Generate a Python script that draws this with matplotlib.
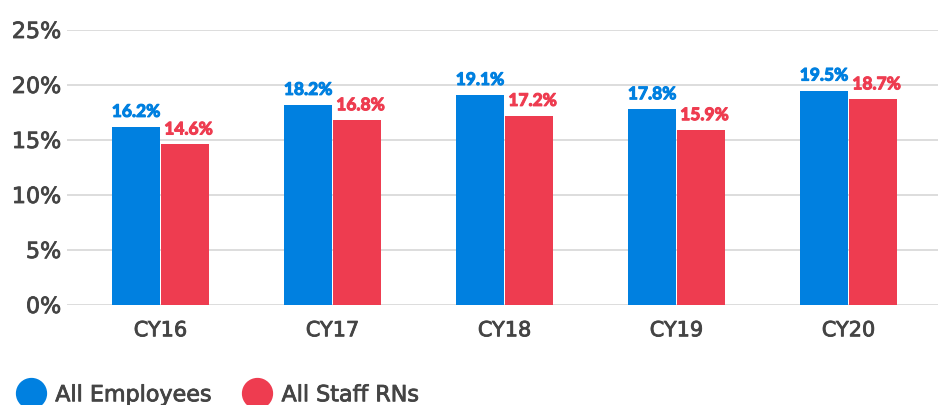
import matplotlib
matplotlib.use("Agg")
import matplotlib.pyplot as plt
import matplotlib.patheffects as pe
import numpy as np
from matplotlib.lines import Line2D

categories = ["CY16", "CY17", "CY18", "CY19", "CY20"]
all_employees = [16.2, 18.2, 19.1, 17.8, 19.5]
all_staff_rns = [14.6, 16.8, 17.2, 15.9, 18.7]
series_names = ["All Employees", "All Staff RNs"]
yticks = [0, 5, 10, 15, 20, 25]

BLUE = "#0080E0"
RED = "#EE3C50"
TEXT = "#444444"
GRID = "#DADADA"

plt.rcParams['font.family'] = ['DejaVu Sans']

fig = plt.figure(figsize=(9.38, 4.05), dpi=100)
ax = fig.add_axes([67/938, 100/405, 1 - 67/938, 275/405])

x = np.arange(len(categories))
w = 0.279
b1 = ax.bar(x - w/2 - 0.003, all_employees, w, color=BLUE, zorder=3)
b2 = ax.bar(x + w/2 + 0.003, all_staff_rns, w, color=RED, zorder=3)

for rects, vals, col, dx in ((b1, all_employees, BLUE, 0.0), (b2, all_staff_rns, RED, 0.02)):
    for rect, v in zip(rects, vals):
        ax.annotate(f"{v}%", (rect.get_x() + rect.get_width()/2 + dx, v), xytext=(0, 5),
                    textcoords="offset points", ha="center", va="bottom",
                    color=col, fontsize=12.5, fontweight="bold", family=["Lato"],
                    path_effects=[pe.withStroke(linewidth=0.8, foreground=col)])

ax.set_xlim(-0.544, 4.52)
ax.set_ylim(0, 25)
ax.set_yticks(yticks)
ax.set_yticklabels([f"{t}%" for t in yticks], fontsize=16, color=TEXT)
ax.set_xticks(x)
ax.set_xticklabels(categories, fontsize=15, color=TEXT)
ax.tick_params(axis="both", length=0)
ax.tick_params(axis="y", pad=4)
ax.tick_params(axis="x", pad=11)
ax.yaxis.grid(True, color=GRID, linewidth=1.3, zorder=0)
for s in ax.spines.values():
    s.set_visible(False)
for t in ax.get_xticklabels() + ax.get_yticklabels():
    t.set_path_effects([pe.withStroke(linewidth=0.6, foreground=TEXT)])

handles = [Line2D([], [], marker="o", linestyle="none", markersize=21.5, color=BLUE),
           Line2D([], [], marker="o", linestyle="none", markersize=21.5, color=RED)]
leg = fig.legend(handles, series_names, loc="lower left", bbox_to_anchor=(-0.006, -0.05),
                 ncol=2, frameon=False, fontsize=16, handletextpad=0.34,
                 columnspacing=1.3, handlelength=1.5)
for t in leg.get_texts():
    t.set_color(TEXT)
    t.set_path_effects([pe.withStroke(linewidth=0.6, foreground=TEXT)])

fig.savefig("out.png", dpi=100)
